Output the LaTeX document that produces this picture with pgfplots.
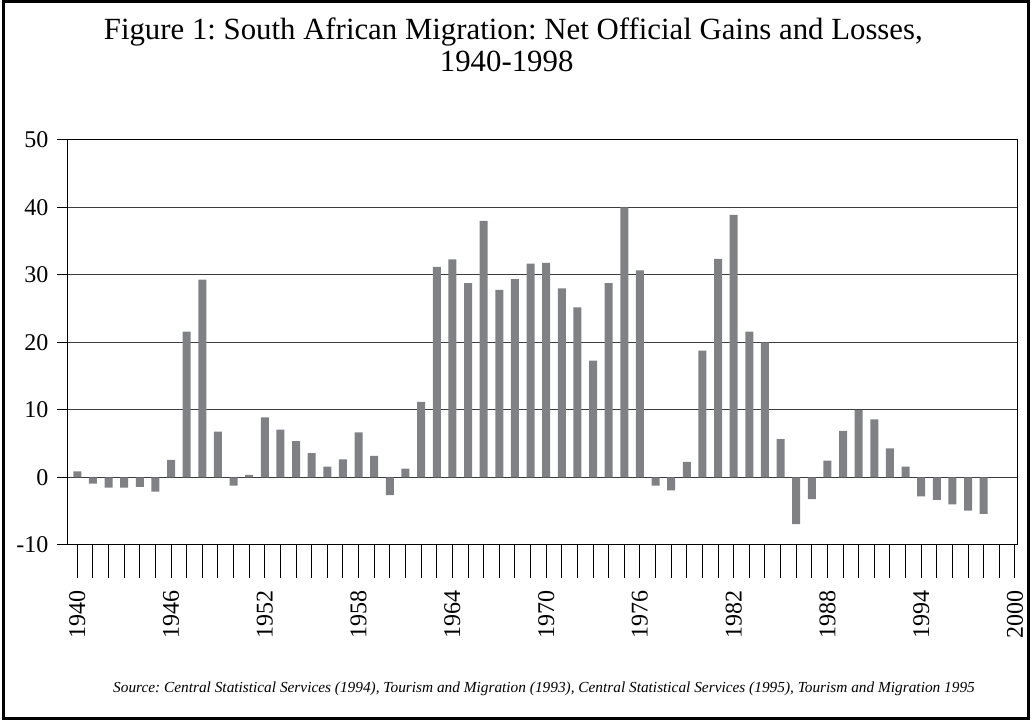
\documentclass[border=0pt]{standalone}
\usepackage{fontspec}
\setmainfont{Liberation Serif}
\usepackage{pgfplots}
\pgfplotsset{compat=1.18}
\definecolor{barfill}{RGB}{128,129,133}
\definecolor{gridc}{RGB}{60,60,60}
\frenchspacing
\begin{document}
\begin{tikzpicture}
\useasboundingbox (0pt,0pt) rectangle (773.25pt,540pt);
\draw[line width=2.2pt] (2.5pt,1.2pt) rectangle (771.7pt,538.8pt);
\begin{axis}[
  at={(50.25pt,131.25pt)}, anchor=south west,
  scale only axis, width=712.5pt, height=303.75pt,
  xmin=1939.34, xmax=2000.13,
  ymin=-10, ymax=50,
  ytick={-10,0,...,50},
  xtick={1940,1946,...,2000},
  minor xtick={1940,1941,...,2000},
  tick pos=left,
  tick align=outside,
  major tick length=7.5pt,
  minor tick length=24.75pt,
  major x tick style={draw=none},
  minor x tick style={black, line width=0.75pt},
  ytick style={black, line width=0.75pt},
  ymajorgrids,
  major grid style={gridc, line width=0.75pt},
  axis line style={black, line width=0.75pt},
  /pgf/number format/assume math mode=true,
  /pgf/number format/1000 sep={},
  ticklabel style={font=\fontsize{18}{20}\selectfont},
  xticklabel style={yshift=-23pt, rotate=90, anchor=east},
  yticklabel style={xshift=-3pt},
]
\addplot[ybar, bar width=6pt, fill=barfill, draw=none] coordinates {
(1940,0.9) (1941,-0.9) (1942,-1.5) (1943,-1.5) (1944,-1.4) (1945,-2.1)
(1946,2.6) (1947,21.6) (1948,29.3) (1949,6.8) (1950,-1.2) (1951,0.4)
(1952,8.9) (1953,7.1) (1954,5.4) (1955,3.6) (1956,1.6) (1957,2.7)
(1958,6.7) (1959,3.2) (1960,-2.6) (1961,1.3) (1962,11.2) (1963,31.2)
(1964,32.3) (1965,28.8) (1966,38.0) (1967,27.8) (1968,29.4) (1969,31.7)
(1970,31.8) (1971,28.0) (1972,25.2) (1973,17.3) (1974,28.8) (1975,40.0)
(1976,30.7) (1977,-1.2) (1978,-1.9) (1979,2.3) (1980,18.8) (1981,32.4)
(1982,38.9) (1983,21.6) (1984,20.0) (1985,5.7) (1986,-6.9) (1987,-3.2)
(1988,2.5) (1989,6.9) (1990,10.0) (1991,8.6) (1992,4.3) (1993,1.6)
(1994,-2.8) (1995,-3.3) (1996,-4.0) (1997,-4.9) (1998,-5.4)
};
\end{axis}
\node[anchor=base, font=\fontsize{23.1}{27}\selectfont] at (385pt,510pt) {Figure 1: South African Migration: Net Official Gains and Losses,};
\node[anchor=base, font=\fontsize{23.1}{27}\selectfont] at (380pt,486pt) {1940-1998};
\node[anchor=base, font=\fontsize{11.5}{14}\selectfont\itshape] at (408pt,20.25pt) {Source: Central Statistical Services (1994), Tourism and Migration (1993), Central Statistical Services (1995), Tourism and Migration 1995};
\end{tikzpicture}
\end{document}
